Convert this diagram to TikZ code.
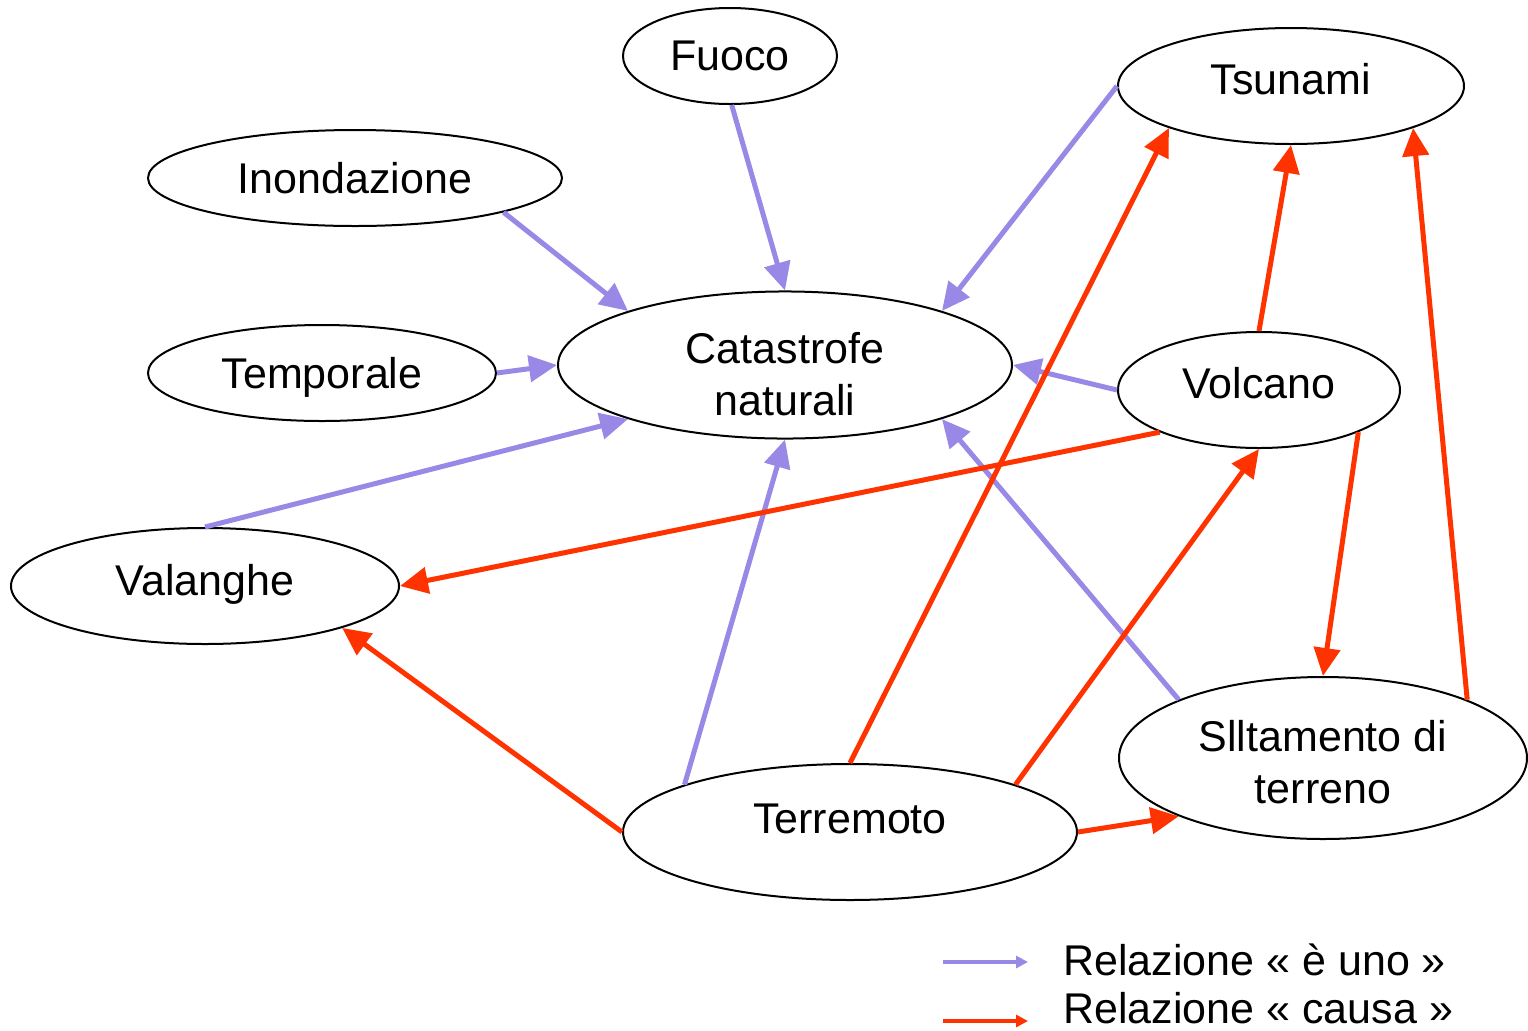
\documentclass[tikz,border=0pt]{standalone}
\usepackage{fontspec}
\setmainfont{Liberation Sans}
\usetikzlibrary{shapes.geometric,arrows.meta}
\definecolor{isa}{RGB}{153,136,230}
\definecolor{cause}{RGB}{255,51,0}
\newcommand{\txtup}[2]{\raisebox{#1}[\height][\depth]{#2}}
\begin{document}
\begin{tikzpicture}[x=0.5pt,y=-0.5pt,
  concept/.style={ellipse,draw=black,line width=1pt,inner sep=0pt,align=center,
    font=\fontsize{21.5pt}{26pt}\selectfont},
  isarrow/.style={draw=isa,line width=2.5pt,-{Triangle[length=14pt,width=13pt]}},
  causearrow/.style={draw=cause,line width=2.5pt,-{Triangle[length=14pt,width=13pt]}},
  legisa/.style={draw=isa,line width=1.8pt,-{Triangle[length=6pt,width=6pt]}},
  legcause/.style={draw=cause,line width=1.8pt,-{Triangle[length=6pt,width=6pt]}},
  legtext/.style={anchor=west,inner sep=0pt,font=\fontsize{21.5pt}{26pt}\selectfont}]
\path[use as bounding box] (0,0) rectangle (1528,1030);

\node[concept,minimum width=107pt,minimum height=48pt] (fuoco) at (730,56) {Fuoco};
\node[concept,minimum width=207pt,minimum height=48pt] (inond) at (355,178) {Inondazione};
\node[concept,minimum width=174pt,minimum height=48pt] (temp) at (322,373) {\txtup{-2pt}{Temporale}};
\node[concept,minimum width=227pt,minimum height=73pt] (cat) at (785,365)
  {\txtup{-7pt}{\begin{tabular}{@{}c@{}}Catastrofe\\naturali\end{tabular}}};
\node[concept,minimum width=173pt,minimum height=58pt] (tsu) at (1291,86) {\txtup{3.5pt}{Tsunami}};
\node[concept,minimum width=141pt,minimum height=58pt] (volc) at (1259,390) {\txtup{3.5pt}{Volcano}};
\node[concept,minimum width=194pt,minimum height=58pt] (val) at (205,586) {\txtup{1pt}{Valanghe}};
\node[concept,minimum width=227pt,minimum height=68pt] (terr) at (850,832) {\txtup{6.5pt}{Terremoto}};
\node[concept,minimum width=204pt,minimum height=81pt] (slit) at (1323,758)
  {\txtup{-4.5pt}{\begin{tabular}{@{}c@{}}Slltamento di\\terreno\end{tabular}}};

% "è uno" relations
\draw[isarrow] (fuoco.-88) -- (cat.90);
\draw[isarrow] (inond.-13) -- (cat.161);
\draw[isarrow] (temp.0) -- (cat.180);
\draw[isarrow] (val.90) -- (cat.199);
\draw[isarrow] (terr.164) -- (cat.270);
\draw[isarrow] (tsu.180) -- (cat.19);
\draw[isarrow] (volc.180) -- (cat.0);
\draw[isarrow] (slit.158) -- (cat.-19);

% "causa" relations
\draw[causearrow] (volc.203) -- (val.0);
\draw[causearrow] (terr.180) -- (val.-17);
\draw[causearrow] (terr.90) -- (tsu.199);
\draw[causearrow] (terr.16) -- (volc.270);
\draw[causearrow] (terr.0) -- (slit.202);
\draw[causearrow] (volc.90) -- (tsu.270);
\draw[causearrow] (volc.-23) -- (slit.90);
\draw[causearrow] (slit.22) -- (tsu.-19);

% legend
\coordinate (l1a) at (943,962);
\coordinate (l1b) at (1028,962);
\coordinate (l2a) at (943,1021);
\coordinate (l2b) at (1028,1021);
\draw[legisa] (l1a) -- (l1b);
\draw[legcause] (l2a) -- (l2b);
\node[legtext] (t1) at (1063,960) {Relazione « è uno »};
\node[legtext] (t2) at (1063,1008) {Relazione « causa »};
\end{tikzpicture}
\end{document}
